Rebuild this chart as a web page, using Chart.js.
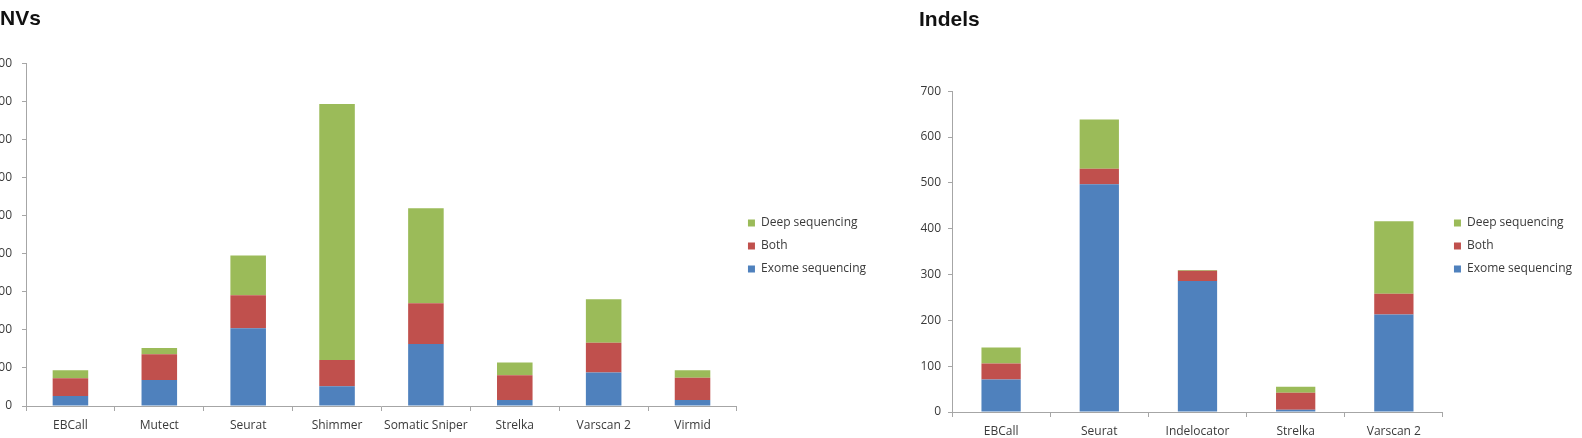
<!DOCTYPE html>
<html>
<head>
<meta charset="utf-8">
<script src="https://cdn.jsdelivr.net/npm/chart.js@4.4.1/dist/chart.umd.min.js"></script>
<style>
  html, body { margin: 0; padding: 0; background: #fff; overflow: hidden; }
  body { width: 1582px; height: 438px; position: relative; }
  .box { position: absolute; top: 0; }
  #snvBox { left: -14px; }
  #indelBox { left: 919px; }
</style>
</head>
<body>
<div class="box" id="snvBox"><canvas id="snvChart" width="900" height="438"></canvas></div>
<div class="box" id="indelBox"><canvas id="indelChart" width="663" height="438"></canvas></div>
<script>
// SNVs
const snvLabels = ['EBCall', 'Mutect', 'Seurat', 'Shimmer', 'Somatic Sniper', 'Strelka', 'Varscan 2', 'Virmid'];
const snvExome = [26, 68, 204, 52, 163, 16, 88, 16];
const snvBoth = [47, 68, 87, 69, 107, 65, 78, 58];
const snvDeep = [21, 16, 104, 672, 249, 33, 114, 20];
const snvMax = 900;

// Indels
const indelLabels = ['EBCall', 'Seurat', 'Indelocator', 'Strelka', 'Varscan 2'];
const indelExome = [71, 497, 286, 5, 213];
const indelBoth = [35, 34, 22, 37, 45];
const indelDeep = [35, 107, 2, 13, 158];
const indelMax = 700;

const seriesNames = ['Exome sequencing', 'Both', 'Deep sequencing'];
const seriesColors = ['#4F81BD', '#C0504D', '#9BBB59'];

const axisColor = '#A6A6A6';
const textColor = '#3a3a3a';
const tickFont = { family: "'Open Sans', sans-serif", size: 12 };

// moves the legend a bit, like the Excel original
const legendShift = {
  id: 'legendShift',
  afterLayout(chart, args, opts) {
    chart.legend.left += opts.dx || 0;
    chart.legend.right += opts.dx || 0;
    chart.legend.top += opts.dy || 0;
    chart.legend.bottom += opts.dy || 0;
  }
};

function buildChart(canvasId, title, labels, exome, both, deep, maxY, lay) {
  const values = [exome, both, deep];
  return new Chart(document.getElementById(canvasId), {
    type: 'bar',
    data: {
      labels: labels,
      datasets: values.map((v, i) => ({
        label: seriesNames[i],
        data: v,
        backgroundColor: seriesColors[i],
        borderWidth: 0,
        categoryPercentage: 1,
        barPercentage: 0.4
      }))
    },
    plugins: [legendShift],
    options: {
      responsive: false,
      animation: false,
      devicePixelRatio: 1,
      layout: { padding: { left: 0, right: lay.padRight, top: 0, bottom: 0 } },
      plugins: {
        title: {
          display: true,
          text: title,
          align: 'start',
          color: '#111',
          font: { family: "'Liberation Sans', Arial, sans-serif", size: 21, weight: 'bold' },
          padding: { top: lay.titleTop, bottom: lay.titleBottom }
        },
        legend: {
          position: 'right',
          reverse: true,
          labels: {
            boxWidth: 7,
            boxHeight: 7,
            padding: 11,
            color: textColor,
            font: tickFont
          }
        },
        legendShift: { dx: lay.legendDx, dy: lay.legendDy },
        tooltip: { enabled: false }
      },
      scales: {
        x: {
          stacked: true,
          afterFit(scale) { scale.height = lay.xHeight; },
          grid: {
            offset: true,
            drawOnChartArea: false,
            drawTicks: true,
            tickLength: 5,
            color: axisColor
          },
          border: { display: true, color: axisColor, width: 1 },
          ticks: {
            color: textColor,
            font: tickFont,
            padding: 7,
            maxRotation: 0,
            autoSkip: false
          }
        },
        y: {
          stacked: true,
          min: 0,
          max: maxY,
          afterFit(scale) { scale.width = lay.yWidth; },
          grid: {
            drawOnChartArea: false,
            drawTicks: true,
            tickLength: 4,
            color: axisColor
          },
          border: { display: true, color: axisColor, width: 1 },
          ticks: {
            stepSize: 100,
            color: textColor,
            font: tickFont,
            padding: lay.yPad
          }
        }
      }
    }
  });
}

buildChart('snvChart', 'SNVs', snvLabels, snvExome, snvBoth, snvDeep, snvMax, {
  padRight: 10, titleTop: 7, titleBottom: 31, xHeight: 32, yWidth: 40, yPad: 10, legendDx: 0, legendDy: 27
});
buildChart('indelChart', 'Indels', indelLabels, indelExome, indelBoth, indelDeep, indelMax, {
  padRight: 0, titleTop: 8, titleBottom: 58, xHeight: 26, yWidth: 33, yPad: 7, legendDx: 0, legendDy: 27
});
</script>
</body>
</html>
